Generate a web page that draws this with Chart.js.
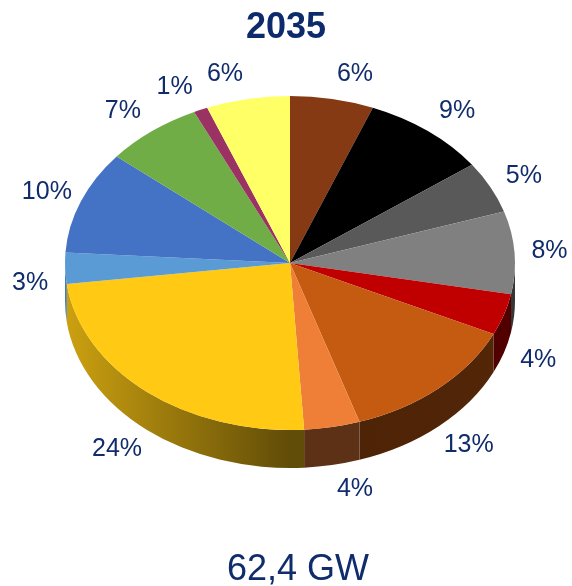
<!DOCTYPE html>
<html>
<head>
<meta charset="utf-8">
<title>2035</title>
<script src="https://cdn.jsdelivr.net/npm/chart.js@4/dist/chart.umd.min.js"></script>
<style>
  html, body { margin: 0; padding: 0; background: #ffffff; }
  #wrap { width: 572px; height: 586px; }
</style>
</head>
<body>
<div id="wrap"><canvas id="c" width="572" height="586"></canvas></div>
<script>
// Capacity mix in 2035, shares in percent (clockwise from 12 o'clock)
const categories = [
  'Braunkohle', 'Steinkohle', 'Erdgas GuD', 'Erdgas GT', 'Öl',
  'Wasserkraft', 'Pumpspeicher', 'Wind onshore', 'Wind offshore',
  'Photovoltaik', 'Biomasse', 'Geothermie', 'Sonstige'
];
const shares = [6, 9, 5, 8, 4, 13, 4, 24, 3, 10, 7, 1, 6];
const sliceColors = [
  '#853A14', '#000000', '#595959', '#808080', '#C00000',
  '#C55A11', '#EF7F36', '#FFC914', '#5B9BD5', '#4472C4',
  '#70AD47', '#9B3264', '#FFFF66'
];
const titleText = '2035';
const totalText = '62,4 GW';

// Geometry of the tilted pie on the page
const CX = 290, CY = 263, RX = 225, RY = 167, DEPTH = 38;
const TEXT = '#102C6C';
const FONT = '"Liberation Sans", Arial, sans-serif';

function hexToRgb(h) {
  const n = parseInt(h.slice(1), 16);
  return [(n >> 16) & 255, (n >> 8) & 255, n & 255];
}
function shade(hex, f) {
  const [r, g, b] = hexToRgb(hex);
  return `rgb(${Math.round(r * f)},${Math.round(g * f)},${Math.round(b * f)})`;
}
const clamp = (v, a, b) => Math.max(a, Math.min(b, v));

const tiltedPie = {
  id: 'tiltedPie',
  beforeDatasetsDraw(chart) {
    const ctx = chart.ctx;
    const meta = chart.getDatasetMeta(0);
    // side wall of the disc: only the front half (canvas angles 0..PI) is visible
    meta.data.forEach((arc, i) => {
      let s = arc.startAngle, e = arc.endAngle;
      const a = Math.max(s, 0), b = Math.min(e, Math.PI);
      if (b <= a) return;
      const col = sliceColors[i];
      const g = ctx.createLinearGradient(CX - RX, 0, CX + RX, 0);
      g.addColorStop(0, shade(col, 0.80));
      g.addColorStop(0.5, shade(col, 0.38));
      g.addColorStop(1, shade(col, 0.42));
      ctx.save();
      ctx.beginPath();
      ctx.ellipse(CX, CY, RX, RY, 0, a, b, false);
      ctx.lineTo(CX + RX * Math.cos(b), CY + DEPTH + RY * Math.sin(b));
      ctx.ellipse(CX, CY + DEPTH, RX, RY, 0, b, a, true);
      ctx.closePath();
      ctx.fillStyle = g;
      ctx.fill();
      ctx.restore();
    });
    // squash the library's round pie onto the ellipse of the top face
    const ref = meta.data[0];
    const r = ref.outerRadius;
    ctx.save();
    ctx.translate(CX, CY);
    ctx.scale(RX / r, RY / r);
    ctx.translate(-ref.x, -ref.y);
  },
  afterDatasetsDraw(chart) {
    const ctx = chart.ctx;
    ctx.restore();
    const meta = chart.getDatasetMeta(0);
    ctx.save();
    ctx.fillStyle = TEXT;
    ctx.font = `25px ${FONT}`;
    ctx.textAlign = 'center';
    ctx.textBaseline = 'middle';
    meta.data.forEach((arc, i) => {
      const mid = (arc.startAngle + arc.endAngle) / 2;
      const sx = Math.cos(mid), sy = Math.sin(mid);
      const ex = CX + RX * sx, ey = CY + RY * sy;
      const lx = ex + Math.sign(sx) * (20 + 15 * Math.abs(sx));
      const ly = ey + 25 * sy + DEPTH * clamp((sy + 0.06) / 0.25, 0, 1);
      ctx.fillText(shares[i] + '%', lx, ly);
    });
    ctx.font = `36px ${FONT}`;
    ctx.textBaseline = 'alphabetic';
    ctx.fillText(totalText, 298, 580);
    ctx.restore();
  }
};

new Chart(document.getElementById('c'), {
  type: 'pie',
  data: {
    labels: categories,
    datasets: [{
      data: shares,
      backgroundColor: sliceColors,
      borderWidth: 0
    }]
  },
  options: {
    responsive: false,
    animation: false,
    events: [],
    layout: { padding: { top: 0, bottom: 80, left: 60, right: 60 } },
    plugins: {
      legend: { display: false },
      tooltip: { enabled: false },
      title: {
        display: true,
        text: titleText,
        color: '#0D2B6B',
        font: { size: 36, weight: 'bold', family: FONT },
        padding: { top: 6, bottom: 10 }
      }
    }
  },
  plugins: [tiltedPie]
});
</script>
</body>
</html>
